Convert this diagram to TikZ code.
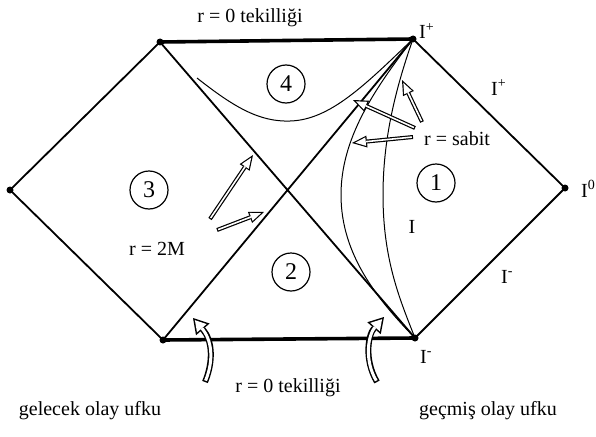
\documentclass[tikz,border=0pt]{standalone}
\usepackage{fontspec}
\setmainfont{Liberation Serif}
\usetikzlibrary{arrows.meta}
\tikzset{
  edge/.style={line width=1.8pt, line join=round},
  singular/.style={line width=3.6pt},
  rcurve/.style={line width=1pt},
  regnum/.style={draw, circle, line width=1.2pt, minimum size=38pt, inner sep=0pt, font=\fontsize{24}{24}\selectfont},
  lbl/.style={font=\fontsize{20}{22}\selectfont, inner sep=0pt},
  hollowarrow/.style={white, line width=1.6pt, shorten <=1.2pt, shorten >=3.2pt,
    -{Triangle[length=10.6pt, width=8.5pt, line width=0pt]},
    preaction={draw=black, line width=4pt, shorten <=0pt, shorten >=0pt,
      -{Triangle[length=15pt, width=12pt, line width=0pt]}}},
  bigarrow/.style={white, line width=3pt, shorten <=1.5pt, shorten >=2.9pt,
    -{Triangle[length=10.6pt, width=12.7pt, line width=0pt]},
    preaction={draw=black, line width=6pt, shorten <=0pt, shorten >=0pt,
      -{Triangle[length=15pt, width=18pt, line width=0pt]}}}
}
\begin{document}
\begin{tikzpicture}[x=1pt, y=-1pt]
  \useasboundingbox (0,0) rectangle (596,436);
  % corners
  \coordinate (L) at (10,190);
  \coordinate (TL) at (160,42);
  \coordinate (TR) at (413,39);
  \coordinate (BL) at (163,340);
  \coordinate (BR) at (415,338);
  \coordinate (R) at (565,188);
  % horizons, infinities and singularities
  \draw[edge] (L) -- (TL) -- (BR) -- (R) -- (TR) -- (BL) -- cycle;
  \draw[singular] (TL) -- (TR);
  \draw[singular] (BL) -- (BR);
  \foreach \p in {L,TL,TR,BL,BR,R}
    \fill (\p) circle (3.5pt);
  % r = const curves
  \coordinate (h0) at (197,78);
  \draw[rcurve] (TR) .. controls (372,92) and (341,140) .. (341,195)
    .. controls (341,255) and (378,300) .. (BR);
  \draw[rcurve] (TR) .. controls (395,90) and (383,140) .. (383,195)
    .. controls (383,260) and (400,300) .. (BR);
  \draw[rcurve] (h0) .. controls (235,108) and (260,122) .. (290,121)
    .. controls (330,120) and (365,85) .. (TR);
  % regions
  \node[regnum] (reg1) at (436,183) {1};
  \node[regnum] (reg2) at (291,272) {2};
  \node[regnum] (reg3) at (149,190) {3};
  \node[regnum] (reg4) at (286,84) {4};
  % labels
  \node[lbl, anchor=base] (singtop) at (250,23) {r = 0 tekilliği};
  \node[lbl, anchor=base] (singbot) at (288,392) {r = 0 tekilliği};
  \node[lbl, anchor=base] (future) at (90,415) {gelecek olay ufku};
  \node[lbl, anchor=base] (past) at (488,415) {geçmiş olay ufku};
  \node[lbl, anchor=base] (rtwo) at (157,255) {r = 2M};
  \node[lbl, anchor=base] (rconst) at (457,145) {r = sabit};
  \node[lbl, anchor=base] (scri) at (412,233) {I};
  \node[lbl, anchor=base west] (iplustop) at (419,39) {I\textsuperscript{+}};
  \node[lbl, anchor=base west] (iplus) at (491,95) {I\textsuperscript{+}};
  \node[lbl, anchor=base west] (izero) at (581,197) {I\textsuperscript{0}};
  \node[lbl, anchor=base west] (iminus) at (501,283) {I\textsuperscript{-}};
  \node[lbl, anchor=base west] (iminusbot) at (420,363) {I\textsuperscript{-}};
  % pointer arrows
  \coordinate (a1s) at (422,122); \coordinate (a1e) at (402,80);
  \coordinate (a2s) at (415,128); \coordinate (a2e) at (353,100);
  \coordinate (a3s) at (413,137); \coordinate (a3e) at (352,143);
  \coordinate (a4s) at (210,219); \coordinate (a4e) at (253,155);
  \coordinate (a5s) at (217,230); \coordinate (a5e) at (264,212);
  \draw[hollowarrow] (a1s) -- (a1e);
  \draw[hollowarrow] (a2s) -- (a2e);
  \draw[hollowarrow] (a3s) -- (a3e);
  \draw[hollowarrow] (a4s) -- (a4e);
  \draw[hollowarrow] (a5s) -- (a5e);
  \coordinate (b1s) at (205,382); \coordinate (b1e) at (193,318);
  \coordinate (b2s) at (377,382); \coordinate (b2e) at (384,317);
  \draw[bigarrow] (b1s) .. controls (214,360) and (212,340) .. (b1e);
  \draw[bigarrow] (b2s) .. controls (364,360) and (368,335) .. (b2e);
\end{tikzpicture}
\end{document}
